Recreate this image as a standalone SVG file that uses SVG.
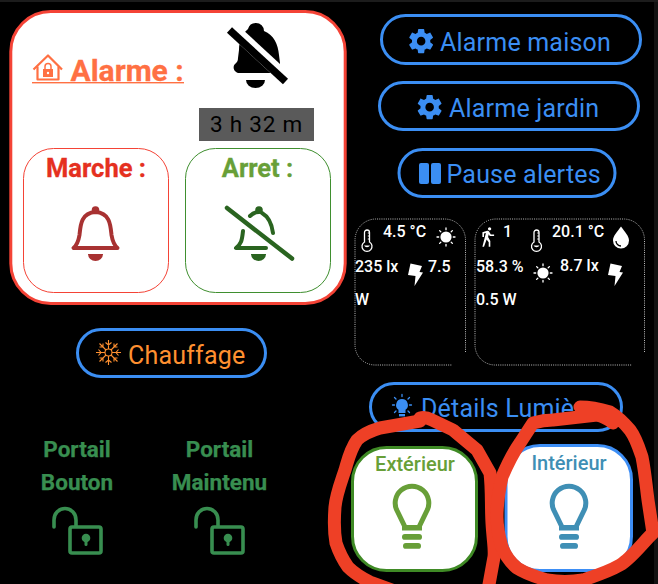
<svg xmlns="http://www.w3.org/2000/svg" width="658" height="584" viewBox="0 0 658 584">
<style>
text{font-family:Roboto,"Liberation Sans",sans-serif}
.btn{fill:none;stroke:#3b8ef3;stroke-width:3}
.bt{fill:#3b8ef3;font-size:25px;letter-spacing:.2px}
.s{fill:#fff;font-size:16px;font-weight:500}
.dot{fill:none;stroke:#bdbdbd;stroke-width:1;stroke-dasharray:1 1.2}
.p{fill:#388e50;font-size:22.500px;font-weight:700;text-anchor:middle;stroke:#388e50;stroke-width:.25}
.h{font-size:25.500px;font-weight:700;text-anchor:middle;stroke-width:.3}
.scr{fill:none;stroke:#ee4026;stroke-width:13;stroke-linecap:round;stroke-linejoin:round}
</style>
<defs>
<path id="gear" fill="#3b8ef3" fill-rule="evenodd" d="M12,15.5A3.5,3.5 0 0,1 8.5,12A3.5,3.5 0 0,1 12,8.5A3.5,3.5 0 0,1 15.5,12A3.5,3.5 0 0,1 12,15.5M19.43,12.97C19.47,12.65 19.5,12.33 19.5,12C19.5,11.67 19.47,11.34 19.43,11L21.54,9.37C21.73,9.22 21.78,8.95 21.66,8.73L19.66,5.27C19.54,5.05 19.27,4.96 19.05,5.05L16.56,6.05C16.04,5.66 15.5,5.32 14.87,5.07L14.5,2.42C14.46,2.18 14.25,2 14,2H10C9.75,2 9.54,2.18 9.5,2.42L9.13,5.07C8.5,5.32 7.96,5.66 7.44,6.05L4.95,5.05C4.73,4.96 4.46,5.05 4.34,5.27L2.34,8.73C2.21,8.95 2.27,9.22 2.46,9.37L4.57,11C4.53,11.34 4.5,11.67 4.5,12C4.5,12.33 4.53,12.65 4.57,12.97L2.46,14.63C2.27,14.78 2.21,15.05 2.34,15.27L4.34,18.73C4.46,18.95 4.73,19.03 4.95,18.95L7.44,17.94C7.96,18.34 8.5,18.68 9.13,18.93L9.5,21.58C9.54,21.82 9.75,22 10,22H14C14.25,22 14.46,21.82 14.5,21.58L14.87,18.93C15.5,18.67 16.04,18.34 16.56,17.94L19.05,18.95C19.27,19.03 19.54,18.95 19.66,18.73L21.66,15.27C21.78,15.05 21.73,14.78 21.54,14.63L19.43,12.97Z"/>
<g id="therm" fill="none" stroke="#fff" stroke-width="1.300">
<path d="M-2.500 12V2.500a2.500 2.500 0 0 1 5 0V12a5 5 0 1 1-5 0z"/>
<path d="M-3 15.500a3.400 3.400 0 0 0 6 0z" fill="#fff" stroke="none"/>
<path d="M.8 3h1.700M.8 6h1.700M.8 9h1.700" stroke-width="1"/>
</g>
<g id="sun" stroke="#fff" stroke-width="1.300" stroke-linecap="round">
<circle r="5.600" fill="#fff" stroke="none"/>
<path d="M0-9V-7.300M0 9V7.300M-9 0H-7.300M9 0H7.300M-6.400-6.400L-5.200-5.200M6.400-6.400L5.200-5.200M-6.400 6.400L-5.200 5.200M6.400 6.400L5.200 5.200"/>
</g>
<path id="bolt" fill="#fff" d="M2.500 0L14 2.500L11.500 8.500L15 9L6.500 22.500L7.500 12.500L0 11.500z"/>
<g id="lock" fill="none" stroke="#388e50" stroke-width="3.600" stroke-linecap="round" stroke-linejoin="round">
<path d="M54 527V520a11 11.500 0 0 1 22 0V526"/>
<rect x="70" y="527" width="31" height="26" rx="2"/>
<circle cx="86" cy="538" r="4.300" fill="#388e50" stroke="none"/>
<path d="M86 539V544.500" stroke-width="3"/>
</g>
<g id="bulb">
<path fill="none" stroke-width="5" stroke-linejoin="round" d="M-7 527L-14.500 511.500A16.800 16.800 0 1 1 14.500 511.500L7 527" stroke="currentColor"/>
<rect x="-10" y="525" width="20" height="5.500" fill="currentColor"/>
<rect x="-10" y="534" width="20" height="5.800" rx="2.900" fill="currentColor"/>
<rect x="-9" y="543" width="18" height="5.800" rx="2.900" fill="currentColor"/>
</g>
</defs>
<rect width="658" height="584" fill="#000"/>
<rect width="658" height="2" fill="#1c1c1c"/>
<rect x="654" y="2" width="4" height="582" fill="#121212"/>

<g id="alarme-card">
<rect x="10.800" y="11.500" width="334.400" height="292" rx="40" fill="#fff" stroke="#f44336" stroke-width="3"/>
<g id="alarme-title">
<g fill="none" stroke="#ff7043" stroke-width="2.200" stroke-linejoin="round">
<path d="M33.500 69.500L48 55.500L62 69.500"/>
<path d="M37.500 66.500V79.500H58.500V66.500"/>
</g>
<rect x="43" y="69" width="10" height="8" fill="#ff7043"/>
<path d="M45 69.500V66.500a3 3 0 0 1 6 0V69.500" fill="none" stroke="#ff7043" stroke-width="1.500"/>
<circle cx="48" cy="73" r="1.200" fill="#fff"/>
<text x="70.500" y="80.500" font-size="30" font-weight="700" fill="#ff7043" stroke="#ff7043" stroke-width=".3">Alarme :</text>
<rect x="32" y="82" width="152" height="1.400" fill="#ff7043"/>
</g>
<g id="alarme-bell">
<path d="M256 23a8 8 0 0 1 8 8c10 4 14 13 15 24l1 8v3c3 3 1 7-3 7H240c-6 0-8-6-5-9 2-2 3-3 3-6l1-8c0-10 4-17 9-21a8 8 0 0 1 8-6z" fill="#000"/>
<path d="M246 80h19a9.500 8 0 0 1-19 0z" fill="#000"/>
<path d="M226 23L290 82" stroke="#fff" stroke-width="13" fill="none"/>
<path d="M229.500 30L285.500 81.500" stroke="#000" stroke-width="7.500" fill="none"/>
</g>
<g id="duree">
<rect x="199" y="108" width="115" height="33" fill="#5a5a5a"/>
<text x="256.500" y="132" font-size="22.500" text-anchor="middle" letter-spacing=".8" fill="#000">3 h 32 m</text>
</g>
<g id="marche">
<rect x="23.500" y="148.500" width="145" height="144" rx="30" fill="#fff" stroke="#f44336" stroke-width="1"/>
<text class="h" x="96" y="177" fill="#e53020" stroke="#e53020">Marche :</text>
<g fill="none" stroke="#a83232" stroke-width="4" stroke-linecap="round" stroke-linejoin="round">
<path d="M73.500 248H117.500C114 245 112.500 241 111.500 235C110.500 225 110 213 95.500 212C81 213 80.500 225 79.500 235C78.500 241 77 245 73.500 248z"/>
</g>
<circle cx="95.500" cy="210" r="3.800" fill="#a83232"/>
<path d="M88 254h15a7.500 7 0 0 1-15 0z" fill="#a83232"/>
</g>
<g id="arret">
<rect x="185.500" y="148.500" width="145" height="144" rx="30" fill="#fff" stroke="#3f8f2f" stroke-width="1"/>
<text class="h" x="257.500" y="177" fill="#689f38" stroke="#689f38">Arret :</text>
<g fill="none" stroke="#2a6420" stroke-width="4" stroke-linecap="round" stroke-linejoin="round">
<path d="M262 213C269 217 272 225 273 233M243 231C242 241 241 244 236 248H266"/>
<path d="M250 216C252 214 255 212 259 212"/>
</g>
<circle cx="259" cy="210" r="3.800" fill="#2a6420"/>
<path d="M251 254h15a7.500 7 0 0 1-15 0z" fill="#2a6420"/>
<path d="M227 208L292 258.500" stroke="#fff" stroke-width="9" fill="none"/>
<path d="M227 208L292 258.500" stroke="#2a6420" stroke-width="4.500" stroke-linecap="round" fill="none"/>
</g>
</g>

<g id="btn-maison">
<rect class="btn" x="381.500" y="15.500" width="259" height="48" rx="24"/>
<use href="#gear" transform="translate(406.500 26.500) scale(1.220)"/>
<text class="bt" x="440" y="51">Alarme maison</text>
</g>
<g id="btn-jardin">
<rect class="btn" x="379.500" y="82.500" width="259" height="47" rx="23.500"/>
<use href="#gear" transform="translate(415 92.500) scale(1.220)"/>
<text class="bt" x="449" y="117">Alarme jardin</text>
</g>
<g id="btn-pause">
<rect class="btn" x="399" y="149.500" width="216" height="47" rx="23.500"/>
<rect x="419" y="163" width="10" height="21" rx="2" fill="#3b8ef3"/>
<rect x="431" y="163" width="10" height="21" rx="2" fill="#3b8ef3"/>
<text class="bt" x="446.500" y="183">Pause alertes</text>
</g>

<g id="capteur-ext">
<path class="dot" d="M465.500 352V240a21 21 0 0 0-21-21H376a21 21 0 0 0-21 21V345a20 20 0 0 0 20 20H452"/>
<use href="#therm" transform="translate(367 230)"/>
<text class="s" x="383" y="237">4.5 °C</text>
<use href="#sun" transform="translate(446 237)"/>
<text class="s" x="355" y="272">235 lx</text>
<use href="#bolt" transform="translate(408 263.500)"/>
<text class="s" x="428" y="272">7.5</text>
<text class="s" x="355" y="305">W</text>
</g>
<g id="capteur-int">
<path class="dot" d="M644.500 352V240a21 21 0 0 0-21-21H496a21 21 0 0 0-21 21V345a20 20 0 0 0 20 20H632"/>
<path fill="#fff" transform="translate(477 227) scale(.9)" d="M14.120,10H19V8.200H15.380L13.380,4.870C13.080,4.370 12.540,4.030 11.920,4.030C11.740,4.030 11.580,4.060 11.420,4.110L6,5.800V11H7.800V7.330L9.910,6.670L6,22H7.800L10.670,13.890L13,17V22H14.800V15.590L12.310,11.050L13.040,8.180M14,3.800C15,3.800 15.800,3 15.800,2C15.800,1 15,0.200 14,0.200C13,0.200 12.200,1 12.200,2C12.200,3 13,3.800 14,3.800Z"/>
<text class="s" x="503" y="237">1</text>
<use href="#therm" transform="translate(536.500 230)"/>
<text class="s" x="552" y="237">20.1 °C</text>
<path fill="#fff" d="M621 226.500C625 232 629 236 629 240.500a8 8 0 0 1-16 0C613 236 617 232 621 226.500z"/>
<path fill="none" stroke="#000" stroke-width="1.300" d="M616 241a5 5 0 0 0 5 5"/>
<text class="s" x="476" y="272">58.3 %</text>
<use href="#sun" transform="translate(543 273)"/>
<text class="s" x="560" y="271">8.7 lx</text>
<use href="#bolt" transform="translate(608 263.500)"/>
<text class="s" x="476" y="305">0.5 W</text>
</g>

<g id="btn-chauffage">
<rect class="btn" x="77.500" y="329.500" width="188" height="47" rx="23.500"/>
<g stroke="#ff9030" stroke-width="1.100" fill="none" transform="translate(108.500 352.500)">
<circle r="3.500"/>
<path d="M0-12.500V-3.500M-3-10L0-7.500L3-10M12.500 0H3.500M10-3L7.500 0L10 3M0 12.500V3.500M-3 10L0 7.500L3 10M-12.500 0H-3.500M-10-3L-7.500 0L-10 3M-9-9L-2.500-2.500M-9-5.500H-5.500V-9M9-9L2.500-2.500M9-5.500H5.500V-9M-9 9L-2.500 2.500M-9 5.500H-5.500V9M9 9L2.500 2.500M9 5.500H5.500V9"/>
</g>
<text x="128" y="364" font-size="25" fill="#ff9030" letter-spacing=".2">Chauffage</text>
</g>

<g id="portail-bouton">
<text class="p" x="77" y="457">Portail</text>
<text class="p" x="77" y="490">Bouton</text>
<use href="#lock"/>
</g>
<g id="portail-maintenu">
<text class="p" x="219.500" y="457">Portail</text>
<text class="p" x="219.500" y="490">Maintenu</text>
<use href="#lock" x="142"/>
</g>

<g id="btn-lumieres">
<rect class="btn" x="370.500" y="383.500" width="251" height="47" rx="23.500"/>
<g fill="#3b8ef3" stroke="#3b8ef3" stroke-width="1.300" stroke-linecap="round">
<path stroke="none" d="M402 399a6 6 0 0 1 3.500 10.800V413h-7v-3.200A6 6 0 0 1 402 399z"/>
<rect x="399" y="414" width="6" height="2.400" stroke="none"/>
<path d="M402 394.500V396.500M394.500 397.500L396 399M409.500 397.500L408 399M392.500 405H394.500M411.500 405H409.500M394.500 412.500L396 411M409.500 412.500L408 411" fill="none"/>
</g>
<text class="bt" x="421" y="417">Détails Lumière</text>
</g>

<g id="exterieur">
<rect x="352.500" y="447.500" width="124" height="123" rx="34" fill="#fff" stroke="#3f8a25" stroke-width="3"/>
<text x="415" y="471" font-size="20" font-weight="500" text-anchor="middle" fill="#689f38">Extérieur</text>
<use href="#bulb" transform="translate(412 0)" color="#689f38"/>
</g>
<g id="interieur">
<rect x="506" y="445.500" width="125.500" height="125" rx="34" fill="#fff" stroke="#3d8ef5" stroke-width="3"/>
<text x="569" y="470" font-size="20" font-weight="500" text-anchor="middle" fill="#3f8fb5">Intérieur</text>
<use href="#bulb" transform="translate(569 0)" color="#3f8fb5"/>
</g>

<g id="annotations">
<path class="scr" d="M420 418C424 417 428 418 432 420L453 430L477 450L490 473C492 490 491 505 492 523C493 540 495 550 494 557L488 590"/>
<path class="scr" d="M420 421L380 428C370 431 363 434 357 440C350 450 348 460 345 470C340 485 336 495 335 507C334 520 334 532 336 543C339 552 343 560 348 567C355 574 362 578 370 582L392 590"/>
<path class="scr" d="M580 407C590 407 600 409 610 412C620 418 625 424 630 430C636 438 639 448 642 457C645 472 646 485 648 500L653 533C645 540 632 558 620 565C608 572 595 576 583 580C570 582 560 582 547 580C536 577 525 573 517 568C510 562 505 555 502 547C499 537 497 527 497 517C497 503 499 490 502 477C507 465 513 453 520 443L533 423C540 421 546 420 553 420L597 415C603 416 608 419 613 423"/>
</g>
</svg>
